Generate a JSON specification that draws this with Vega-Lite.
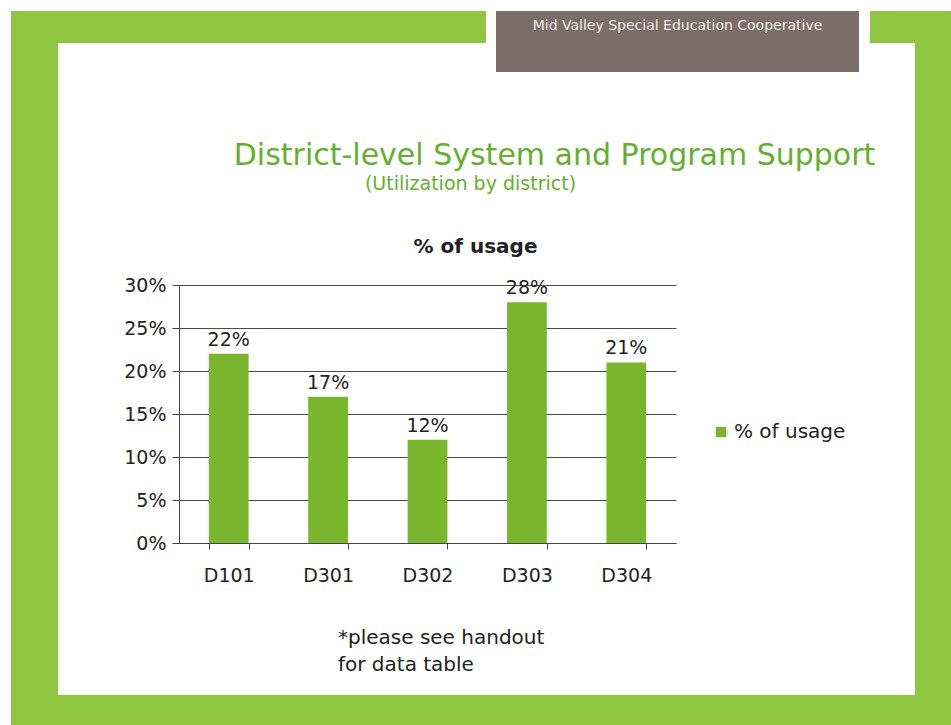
{
  "$schema": "https://vega.github.io/schema/vega-lite/v6.json",
  "background": "white",
  "padding": {"left": 11, "top": 11, "right": 0, "bottom": 0},
  "config": {
    "view": {"stroke": null},
    "concat": {"spacing": 0},
    "font": "DejaVu Sans",
    "title": {"font": "DejaVu Sans"},
    "axis": {"labelFont": "DejaVu Sans"},
    "legend": {"labelFont": "DejaVu Sans"}
  },
  "datasets": {
    "usage": [
      {"district": "D101", "usage": 0.22, "series": "% of usage"},
      {"district": "D301", "usage": 0.17, "series": "% of usage"},
      {"district": "D302", "usage": 0.12, "series": "% of usage"},
      {"district": "D303", "usage": 0.28, "series": "% of usage"},
      {"district": "D304", "usage": 0.21, "series": "% of usage"}
    ],
    "header": [{"text": "Mid Valley Special Education Cooperative"}],
    "note": [{"text": "*please see handout\nfor data table"}],
    "empty": []
  },
  "spacing": 0,
  "vconcat": [
    {
      "spacing": 0,
      "hconcat": [
        {"data": {"name": "empty"}, "mark": "point", "width": 47, "height": 684, "view": {"fill": "#8ec63f", "stroke": null}},
        {
          "spacing": 0,
          "vconcat": [
            {
              "spacing": 0,
              "hconcat": [
                {"data": {"name": "empty"}, "mark": "point", "width": 428, "height": 32, "view": {"fill": "#8ec63f", "stroke": null}},
                {"data": {"name": "empty"}, "mark": "point", "width": 10, "height": 68},
                {
                  "spacing": 0,
                  "vconcat": [
                    {
                      "data": {"name": "header"},
                      "width": 363, "height": 30,
                      "view": {"fill": "#7b6d67", "stroke": null},
                      "mark": {"type": "text", "fontSize": 14, "color": "#f2f0ee", "align": "center", "baseline": "middle"},
                      "encoding": {"text": {"field": "text", "type": "nominal"}}
                    },
                    {"data": {"name": "empty"}, "mark": "point", "width": 363, "height": 31, "view": {"fill": "#7b6d67", "stroke": null}}
                  ]
                },
                {"data": {"name": "empty"}, "mark": "point", "width": 11, "height": 68},
                {"data": {"name": "empty"}, "mark": "point", "width": 45, "height": 32, "view": {"fill": "#8ec63f", "stroke": null}}
              ]
            },
            {
              "data": {"name": "empty"}, "mark": "point", "width": 857, "height": 62,
              "title": {"text": "District-level System and Program Support", "orient": "bottom", "anchor": "middle", "dx": 68, "offset": 0, "fontSize": 30, "fontWeight": "normal", "color": "#62b02e"}
            },
            {
              "data": {"name": "empty"}, "mark": "point", "width": 857, "height": 4,
              "title": {"text": "(Utilization by district)", "orient": "bottom", "anchor": "middle", "dx": -16, "offset": 0, "fontSize": 19, "fontWeight": "normal", "color": "#62b02e"}
            },
            {"data": {"name": "empty"}, "mark": "point", "width": 857, "height": 43},
            {
              "spacing": 0,
              "hconcat": [
                {"data": {"name": "empty"}, "mark": "point", "width": 65, "height": 1},
                {
                  "data": {"name": "usage"},
                  "width": 497,
                  "height": 258,
                  "title": {"text": "% of usage", "anchor": "middle", "dx": 48, "offset": 19, "fontSize": 20, "fontWeight": "bold", "color": "#222222"},
                  "encoding": {
                    "x": {
                      "field": "district", "type": "nominal", "sort": null,
                      "scale": {"paddingInner": 0.6, "paddingOuter": 0.3},
                      "axis": {"title": null, "labelAngle": 0, "labelFontSize": 19, "labelColor": "#222222", "labelPadding": 17, "tickBand": "extent", "tickSize": 6, "tickColor": "#444444", "domainColor": "#444444", "grid": false}
                    },
                    "y": {
                      "field": "usage", "type": "quantitative",
                      "scale": {"domain": [0, 0.3]},
                      "axis": {"title": null, "values": [0, 0.05, 0.1, 0.15, 0.2, 0.25, 0.3], "format": ".0%", "labelFontSize": 19, "labelColor": "#222222", "labelPadding": 6, "tickSize": 7, "tickColor": "#444444", "domainColor": "#444444", "gridColor": "#4a4a4a", "gridWidth": 1}
                    }
                  },
                  "layer": [
                    {
                      "mark": {"type": "bar"},
                      "encoding": {
                        "color": {
                          "field": "series", "type": "nominal",
                          "scale": {"range": ["#79b62e"]},
                          "legend": {"title": null, "orient": "none", "legendX": 700, "legendY": 411, "symbolType": "square", "symbolSize": 110, "symbolStrokeWidth": 0, "labelFontSize": 20, "labelColor": "#222222", "labelOffset": 3}
                        }
                      }
                    },
                    {
                      "mark": {"type": "text", "baseline": "bottom", "dy": -4, "fontSize": 19, "color": "#222222"},
                      "encoding": {"text": {"field": "usage", "type": "quantitative", "format": ".0%"}}
                    }
                  ]
                }
              ]
            },
            {
              "data": {"name": "note"},
              "width": 560, "height": 86,
              "mark": {"type": "text", "align": "left", "baseline": "top", "fontSize": 20, "lineBreak": "\n", "lineHeight": 27, "color": "#222222"},
              "encoding": {"text": {"field": "text", "type": "nominal"}}
            }
          ]
        },
        {"data": {"name": "empty"}, "mark": "point", "width": 36, "height": 684, "view": {"fill": "#8ec63f", "stroke": null}}
      ]
    },
    {"data": {"name": "empty"}, "mark": "point", "width": 940, "height": 30, "view": {"fill": "#8ec63f", "stroke": null}}
  ]
}
